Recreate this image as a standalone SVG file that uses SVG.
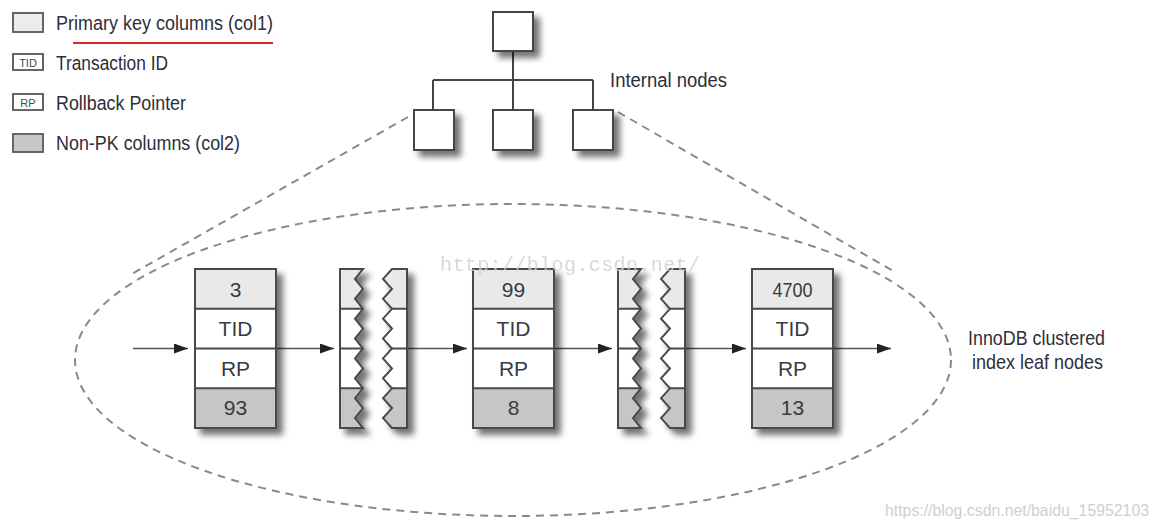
<svg xmlns="http://www.w3.org/2000/svg" width="1159" height="529" viewBox="0 0 1159 529">
<style>
.lbl{font-family:"Liberation Sans",Arial,sans-serif;fill:#2e2e38;}
.cell{font-family:"Liberation Sans",Arial,sans-serif;font-size:21px;fill:#3a3a42;text-anchor:middle;}
.pk{fill:#e9e9e9;}
.wh{fill:#ffffff;}
.np{fill:#c6c6c6;}
.ol{fill:none;stroke:#4a4a4a;stroke-width:2;}
.tree{fill:none;stroke:#444;stroke-width:2;}
.dash{fill:none;stroke:#8a8a8a;stroke-width:2;stroke-dasharray:8 6;}
.arr{stroke:#555;stroke-width:1.5;fill:none;}
.wm{fill:#cfcfcf;}
</style>
<defs>
<filter id="sh" x="-30%" y="-20%" width="170%" height="150%">
<feGaussianBlur in="SourceAlpha" stdDeviation="3"/>
<feOffset dx="6" dy="6" result="o"/>
<feComponentTransfer><feFuncA type="linear" slope="0.55"/></feComponentTransfer>
<feMerge><feMergeNode/><feMergeNode in="SourceGraphic"/></feMerge>
</filter>
<marker id="ah" markerWidth="14" markerHeight="10" refX="14" refY="5" orient="auto" markerUnits="userSpaceOnUse">
<path d="M0,0 L14,5 L0,10 Z" fill="#222"/>
</marker>
<path id="lp" d="M0,0 L23,0 L15,9.9 L23,19.9 L15,29.8 L23,39.8 L15,49.7 L23,59.6 L15,69.6 L23,79.5 L15,89.4 L23,99.4 L15,109.3 L23,119.3 L15,129.2 L23,139.1 L15,149.1 L23,159 L0,159 Z"/>
<path id="rp" d="M52,0 L67,0 L67,159 L52,159 L43,149.1 L52,139.1 L43,129.2 L52,119.3 L43,109.3 L52,99.4 L43,89.4 L52,79.5 L43,69.6 L52,59.6 L43,49.7 L52,39.8 L43,29.8 L52,19.9 L43,9.9 Z"/>
<clipPath id="clp"><use href="#lp"/></clipPath>
<clipPath id="crp"><use href="#rp"/></clipPath>
<g id="brk">
<g filter="url(#sh)">
<g clip-path="url(#clp)">
<rect class="pk" x="0" y="0" width="30" height="39.75"/>
<rect class="wh" x="0" y="39.75" width="30" height="79.5"/>
<rect class="np" x="0" y="119.25" width="30" height="39.75"/>
</g>
<use href="#lp" class="ol"/>
<path class="ol" d="M0,39.75 H23 M0,79.5 H23 M0,119.25 H23"/>
</g>
<g filter="url(#sh)">
<g clip-path="url(#crp)">
<rect class="pk" x="40" y="0" width="30" height="39.75"/>
<rect class="wh" x="40" y="39.75" width="30" height="79.5"/>
<rect class="np" x="40" y="119.25" width="30" height="39.75"/>
</g>
<use href="#rp" class="ol"/>
<path class="ol" d="M52,39.75 H67 M52,79.5 H67 M52,119.25 H67"/>
</g>
</g>
<g id="recbox">
<rect class="pk" x="0" y="0" width="81" height="39.75"/>
<rect class="wh" x="0" y="39.75" width="81" height="79.5"/>
<rect class="np" x="0" y="119.25" width="81" height="39.75"/>
<path class="ol" d="M0,39.75 H81 M0,79.5 H81 M0,119.25 H81"/>
<rect class="ol" x="0" y="0" width="81" height="159"/>
</g>
</defs>

<g id="legend">
<rect x="13" y="13" width="30" height="19" fill="#ececec" stroke="#666" stroke-width="2"/>
<text class="lbl" x="56" y="30" font-size="20" textLength="217" lengthAdjust="spacingAndGlyphs">Primary key columns (col1)</text>
<line x1="73" y1="43" x2="273" y2="43" stroke="#d42a2a" stroke-width="2"/>
<rect x="13" y="54" width="30" height="16" fill="#fff" stroke="#666" stroke-width="2"/>
<text x="28" y="67" font-family="Liberation Sans,Arial,sans-serif" font-size="11" fill="#3a4a5a" text-anchor="middle">TID</text>
<text class="lbl" x="56" y="70" font-size="20" textLength="112" lengthAdjust="spacingAndGlyphs">Transaction ID</text>
<rect x="13" y="94" width="30" height="16" fill="#fff" stroke="#666" stroke-width="2"/>
<text x="28" y="107" font-family="Liberation Sans,Arial,sans-serif" font-size="11" fill="#3a4a5a" text-anchor="middle">RP</text>
<text class="lbl" x="56" y="110" font-size="20" textLength="130" lengthAdjust="spacingAndGlyphs">Rollback Pointer</text>
<rect x="13" y="134" width="30" height="18" fill="#c8c8c8" stroke="#666" stroke-width="2"/>
<text class="lbl" x="56" y="150" font-size="20" textLength="184" lengthAdjust="spacingAndGlyphs">Non-PK columns (col2)</text>
</g>

<g id="connectors">
<path class="dash" d="M408,117 L130,275"/>
<path class="dash" d="M618,112 L895,272"/>
<ellipse class="dash" cx="513" cy="360" rx="438" ry="156"/>
<path class="tree" d="M513,51 V80 M433,80 H593 M433,80 V110 M513,80 V110 M593,80 V110"/>
<line class="arr" x1="133" y1="348.5" x2="188" y2="348.5" marker-end="url(#ah)"/>
<line class="arr" x1="277" y1="348.5" x2="334" y2="348.5" marker-end="url(#ah)"/>
<line class="arr" x1="407" y1="348.5" x2="467" y2="348.5" marker-end="url(#ah)"/>
<line class="arr" x1="554" y1="348.5" x2="612" y2="348.5" marker-end="url(#ah)"/>
<line class="arr" x1="685" y1="348.5" x2="746" y2="348.5" marker-end="url(#ah)"/>
<line class="arr" x1="833" y1="348.5" x2="891" y2="348.5" marker-end="url(#ah)"/>
</g>

<g id="internal-root" filter="url(#sh)"><rect x="493" y="12" width="40" height="39" fill="#fff" stroke="#444" stroke-width="2"/></g>
<g id="internal-1" filter="url(#sh)"><rect x="414" y="110" width="40" height="40" fill="#fff" stroke="#444" stroke-width="2"/></g>
<g id="internal-2" filter="url(#sh)"><rect x="493" y="110" width="40" height="40" fill="#fff" stroke="#444" stroke-width="2"/></g>
<g id="internal-3" filter="url(#sh)"><rect x="573" y="110" width="40" height="40" fill="#fff" stroke="#444" stroke-width="2"/></g>
<text id="internal-label" class="lbl" x="610" y="87" font-size="20" textLength="117" lengthAdjust="spacingAndGlyphs">Internal nodes</text>

<g id="leaf-1" transform="translate(195,269)">
<use href="#recbox" filter="url(#sh)"/>
<text class="cell" x="40.5" y="28">3</text>
<text class="cell" x="40.5" y="67">TID</text>
<text class="cell" x="40.5" y="107">RP</text>
<text class="cell" x="40.5" y="146">93</text>
</g>
<g id="gap-1" transform="translate(340,269)"><use href="#brk"/></g>
<g id="leaf-2" transform="translate(473,269)">
<use href="#recbox" filter="url(#sh)"/>
<text class="cell" x="40.5" y="28">99</text>
<text class="cell" x="40.5" y="67">TID</text>
<text class="cell" x="40.5" y="107">RP</text>
<text class="cell" x="40.5" y="146">8</text>
</g>
<g id="gap-2" transform="translate(618,269)"><use href="#brk"/></g>
<g id="leaf-3" transform="translate(752,269)">
<use href="#recbox" filter="url(#sh)"/>
<text class="cell" x="40.5" y="28" textLength="40" lengthAdjust="spacingAndGlyphs">4700</text>
<text class="cell" x="40.5" y="67">TID</text>
<text class="cell" x="40.5" y="107">RP</text>
<text class="cell" x="40.5" y="146">13</text>
</g>

<g id="leaf-label">
<text class="lbl" x="968" y="345" font-size="21" textLength="137" lengthAdjust="spacingAndGlyphs">InnoDB clustered</text>
<text class="lbl" x="972" y="369" font-size="21" textLength="131" lengthAdjust="spacingAndGlyphs">index leaf nodes</text>
</g>

<text class="wm" x="440" y="271" font-family="Liberation Mono,Courier New,monospace" font-size="20" opacity="0.8" textLength="260">http://blog.csdn.net/</text>
<text class="wm" x="885" y="516" font-family="Liberation Sans,Arial,sans-serif" font-size="16" fill="#d6d6d6" textLength="264" lengthAdjust="spacingAndGlyphs">https://blog.csdn.net/baidu_15952103</text>
</svg>
